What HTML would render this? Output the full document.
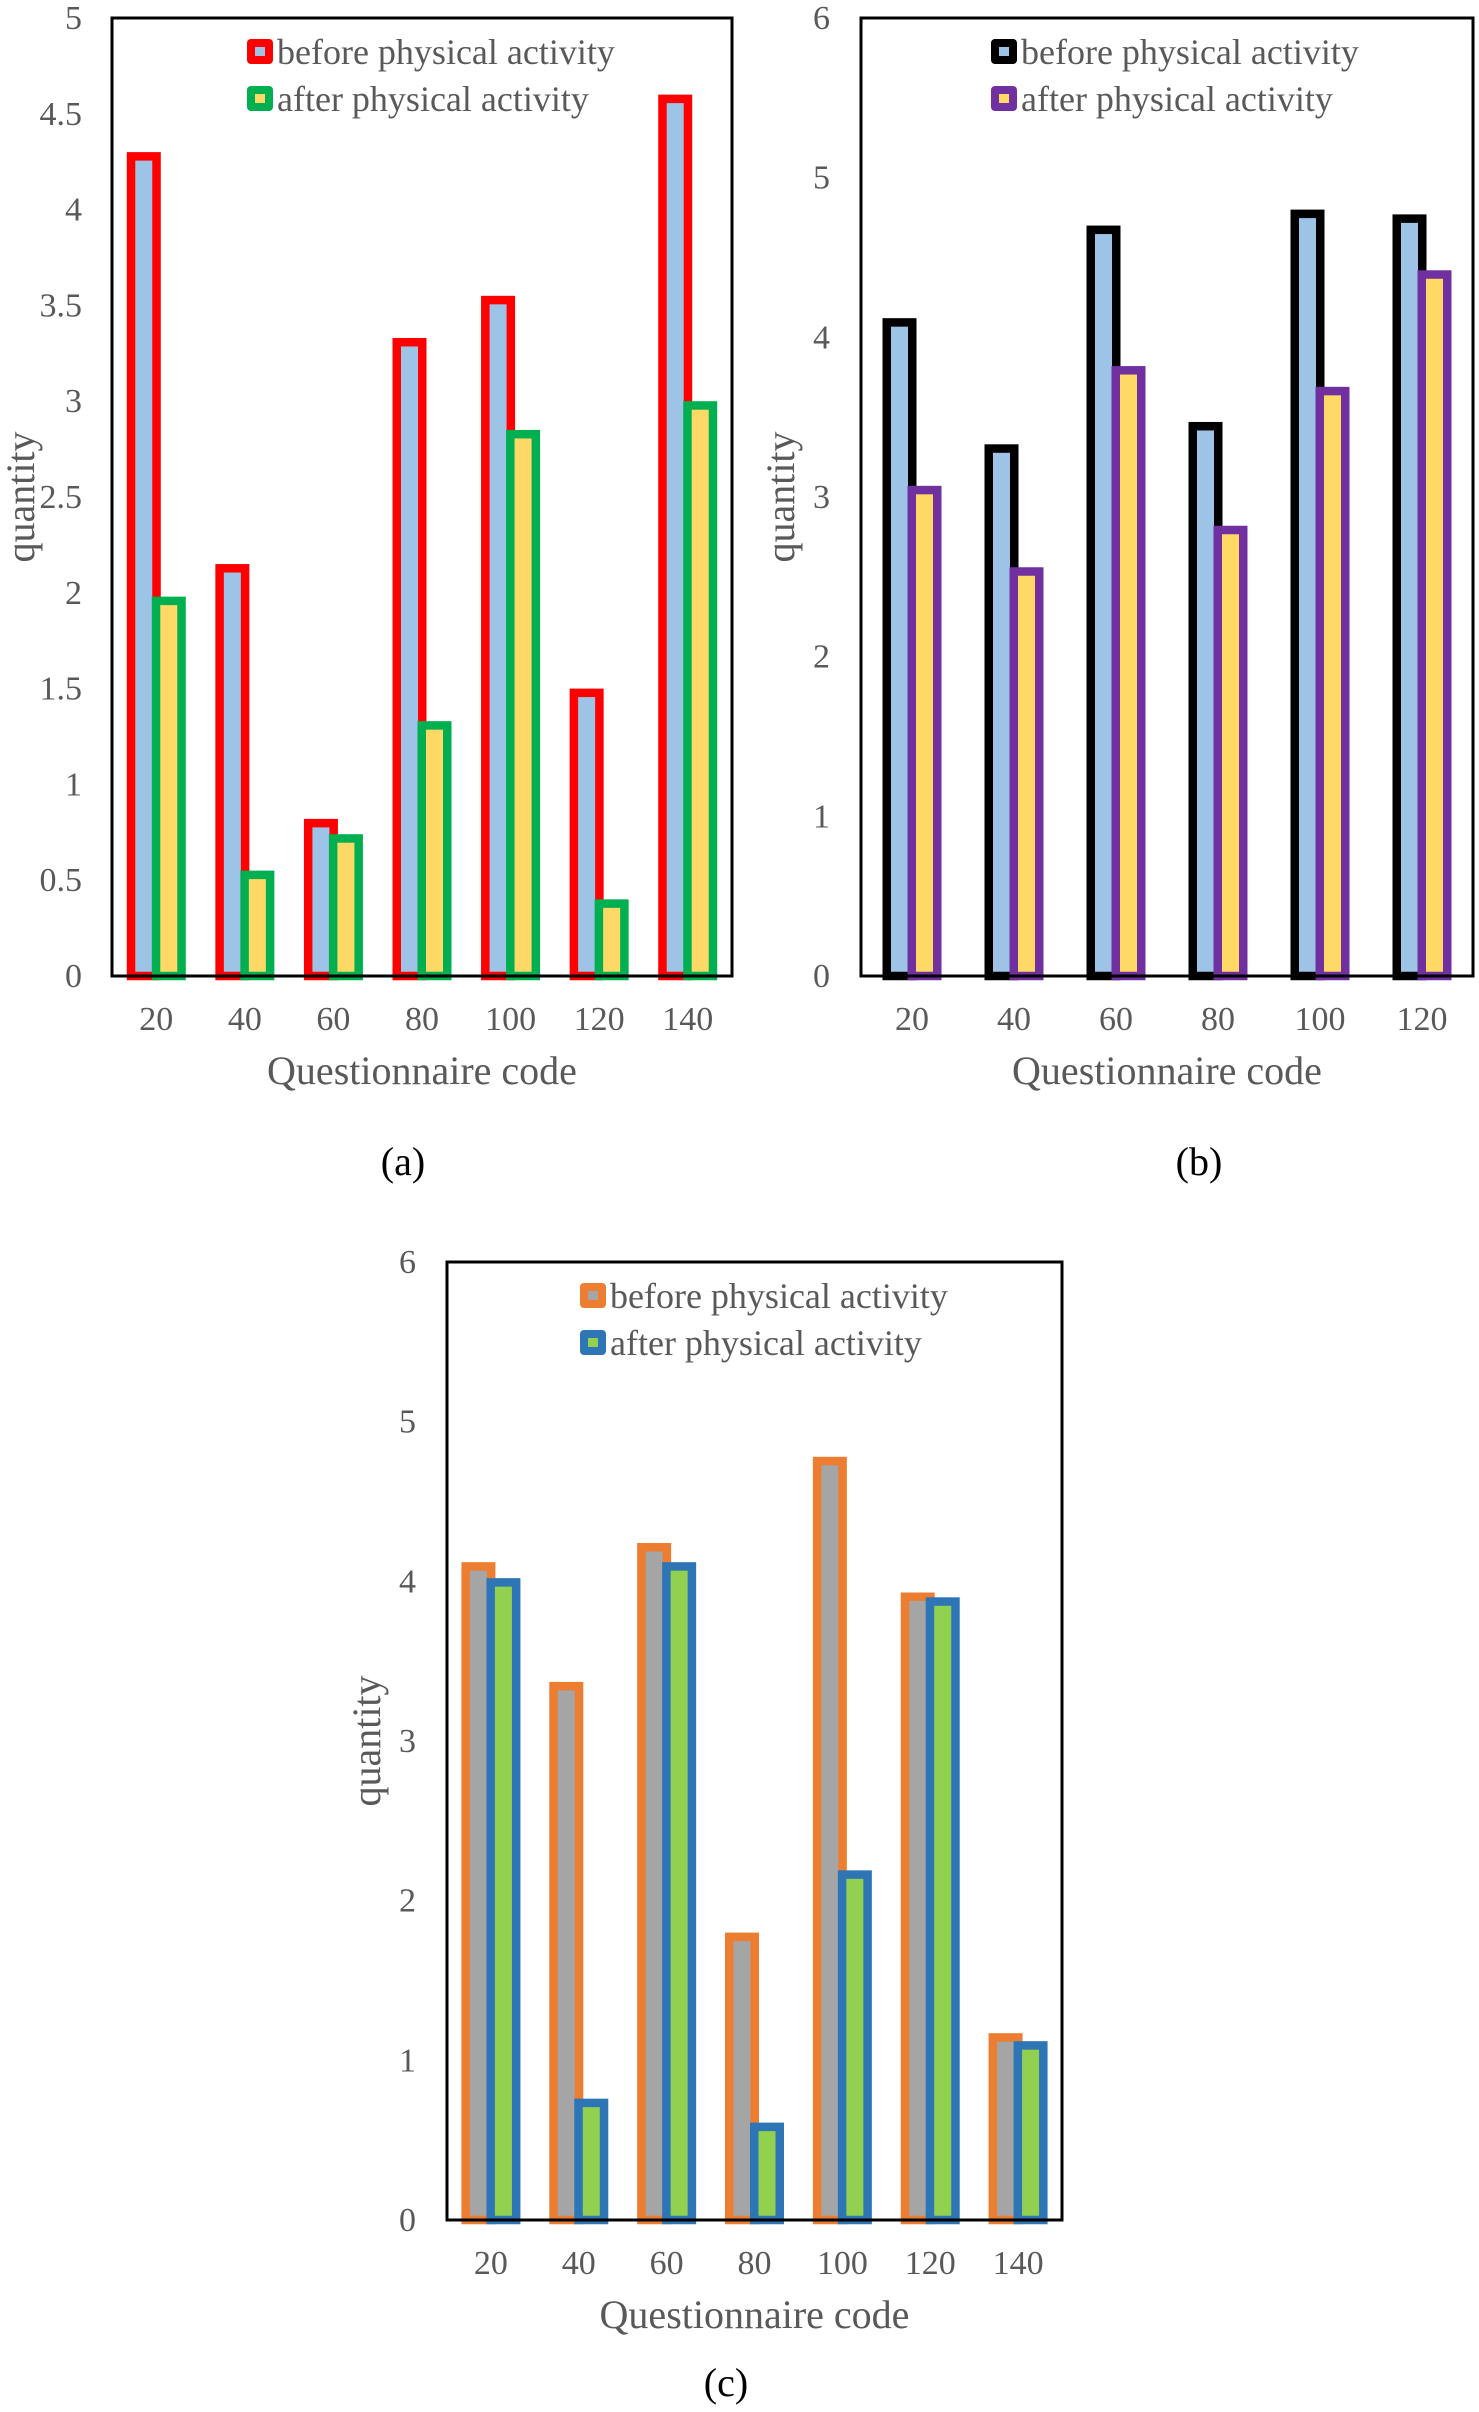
<!DOCTYPE html>
<html><head><meta charset="utf-8"><style>
html,body{margin:0;padding:0;background:#fff;}
svg{display:block;font-family:"Liberation Serif",serif;}
</style></head><body>
<svg id="fig" width="1479" height="2412" viewBox="0 0 1479 2412" xmlns="http://www.w3.org/2000/svg"></svg>
<script>
// Chart (a)
const catsA = ["20","40","60","80","100","120","140"];
const beforeA = [4.3, 2.15, 0.82, 3.33, 3.55, 1.5, 4.6];
const afterA = [1.98, 0.55, 0.74, 1.33, 2.85, 0.4, 3.0];
const ticksA = ["0","0.5","1","1.5","2","2.5","3","3.5","4","4.5","5"];
// Chart (b)
const catsB = ["20","40","60","80","100","120"];
const beforeB = [4.12, 3.33, 4.7, 3.47, 4.8, 4.77];
const afterB = [3.07, 2.56, 3.82, 2.82, 3.69, 4.42];
const ticksB = ["0","1","2","3","4","5","6"];
// Chart (c)
const catsC = ["20","40","60","80","100","120","140"];
const beforeC = [4.12, 3.37, 4.24, 1.8, 4.78, 3.93, 1.17];
const afterC = [4.02, 0.76, 4.12, 0.61, 2.19, 3.9, 1.12];
const ticksC = ["0","1","2","3","4","5","6"];

const NS="http://www.w3.org/2000/svg";
const svg=document.getElementById('fig');
function mk(tag,attrs,parent){const e=document.createElementNS(NS,tag);for(const k in attrs)e.setAttribute(k,attrs[k]);(parent||svg).appendChild(e);return e;}

function chart(cfg){
  const g=mk('g',{});
  
  
  const {L,R,T,B,ymax}=cfg;
  const yS=v=>B-(v/ymax)*(B-T);
  const cw=(R-L)/cfg.cats.length;
  const bw=34, off=25;
  cfg.cats.forEach((c,i)=>{
    const gs=L+i*cw+(cw-(off+bw))/2;
    const y1=yS(cfg.before[i]);
    const r1=mk('rect',{x:gs+4.25,y:y1+4.25,width:bw-8.5,height:Math.max(0,B-y1-4.25),fill:cfg.bFill,stroke:cfg.bStroke,'stroke-width':8.5},g);
    
    
    const y2=yS(cfg.after[i]);
    const r2=mk('rect',{x:gs+off+4.25,y:y2+4.25,width:bw-8.5,height:Math.max(0,B-y2-4.25),fill:cfg.aFill,stroke:cfg.aStroke,'stroke-width':8.5},g);
    
    
    const t=mk('text',{x:L+i*cw+cw/2,y:B+54,'font-size':34,fill:'#595959','text-anchor':'middle'},g);
    t.textContent=c;
    
    
  });
  const fr=mk('rect',{x:L,y:T,width:R-L,height:B-T,fill:'none',stroke:'#000','stroke-width':3},g);
  
  
  cfg.ticks.forEach(tk=>{
    const t=mk('text',{x:cfg.tickX,y:yS(parseFloat(tk))+11,'font-size':34,fill:'#595959','text-anchor':'end'},g);
    t.textContent=tk;
    
    
  });
  const yt=mk('text',{x:0,y:0,'font-size':40,fill:'#595959','text-anchor':'middle',transform:`translate(${cfg.qx},${(T+B)/2}) rotate(-90)`},g);
  yt.textContent='quantity';
  
  
  const xt=mk('text',{x:(L+R)/2,y:B+108,'font-size':40,fill:'#595959','text-anchor':'middle'},g);
  xt.textContent='Questionnaire code';
  
  
  [[cfg.bStroke,cfg.bFill,'before physical activity',0],[cfg.aStroke,cfg.aFill,'after physical activity',1]].forEach(([s,f,txt,k])=>{
    const yy=T+21+k*47;
    const m=mk('rect',{x:cfg.legX,y:yy,width:26,height:25,rx:4,fill:s},g);
    
    
    mk('rect',{x:cfg.legX+8,y:yy+8,width:10,height:9,fill:f},g);
    const t=mk('text',{x:cfg.legX+30,y:yy+25,'font-size':36,fill:'#595959'},g);
    t.textContent=txt;
    
    
  });
  const cap=mk('text',{x:cfg.capX,y:cfg.capY,'font-size':40,fill:'#000','text-anchor':'middle'},g);
  cap.textContent=cfg.cap;
  
  
}

chart({id:'chart-a',L:112,R:732,T:18,B:976,ymax:5,cats:catsA,before:beforeA,after:afterA,ticks:ticksA,
  bFill:'#9dc3e6',bStroke:'#ff0000',aFill:'#ffd966',aStroke:'#00b050',tickX:82,qx:34,legX:247,cap:'(a)',capX:403,capY:1175});
chart({id:'chart-b',L:861,R:1473,T:18,B:976,ymax:6,cats:catsB,before:beforeB,after:afterB,ticks:ticksB,
  bFill:'#9dc3e6',bStroke:'#000000',aFill:'#ffd966',aStroke:'#7030a0',tickX:830,qx:794,legX:991,cap:'(b)',capX:1199,capY:1175});
chart({id:'chart-c',L:447,R:1062,T:1262,B:2220,ymax:6,cats:catsC,before:beforeC,after:afterC,ticks:ticksC,
  bFill:'#a5a5a5',bStroke:'#ed7d31',aFill:'#92d050',aStroke:'#2e75b6',tickX:416,qx:380,legX:580,cap:'(c)',capX:726,capY:2396});
</script>
</body></html>
